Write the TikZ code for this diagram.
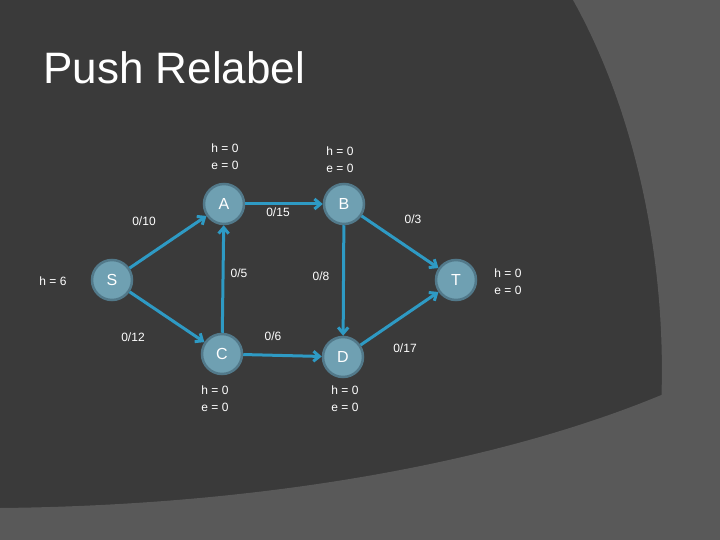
\documentclass[tikz,border=0pt]{standalone}
\usepackage{fontspec}
\setmainfont{Liberation Sans}
\usetikzlibrary{arrows.meta}
\definecolor{bgdark}{HTML}{3A3A3A}
\definecolor{bglight}{HTML}{595959}
\definecolor{nodefill}{HTML}{6FA0B2}
\definecolor{nodeedge}{HTML}{52798A}
\definecolor{edgecol}{HTML}{2E9AC4}
\begin{document}
\begin{tikzpicture}[x=1pt,y=-1pt,
  vtx/.style={circle,fill=nodefill,draw=nodeedge,line width=2.5pt,minimum size=40pt,inner sep=0pt,text=white,font=\fontsize{16}{18}\selectfont},
  lbl/.style={text=white,font=\fontsize{12}{15}\selectfont,inner sep=0pt,align=center},
  flow/.style={draw=edgecol,line width=3pt,-{Straight Barb[length=6pt,width=10pt]}}]
\fill[bgdark] (0,0) rectangle (720,540);
\useasboundingbox (0,0) rectangle (720,540);
\fill[bglight] (573,0) .. controls (640,120) and (670,280) .. (660,425) -- (720,425) -- (720,0) -- cycle;
\fill[bglight] (0,508) .. controls (300,505) and (560,450) .. (720,368) -- (720,540) -- (0,540) -- cycle;
\node[text=white,font=\fontsize{44}{48}\selectfont,anchor=west] (title) at (40,68) {Push Relabel};
\node[vtx] (S) at (112,280) {S};
\node[vtx] (A) at (224,204) {A};
\node[vtx] (B) at (344,204) {B};
\node[vtx] (T) at (456,280) {T};
\node[vtx] (C) at (222,354) {C};
\node[vtx] (D) at (343,357) {D};
\draw[flow] (S) -- (A);
\draw[flow] (S) -- (C);
\draw[flow] (C) -- (A);
\draw[flow] (A) -- (B);
\draw[flow] (B) -- (D);
\draw[flow] (C) -- (D);
\draw[flow] (B) -- (T);
\draw[flow] (D) -- (T);
\node[lbl] (l1) at (144,221) {0/10};
\node[lbl] (l2) at (133,337) {0/12};
\node[lbl] (l3) at (239,273) {0/5};
\node[lbl] (l4) at (278,212) {0/15};
\node[lbl] (l5) at (321,276) {0/8};
\node[lbl] (l6) at (273,336) {0/6};
\node[lbl] (l7) at (413,219) {0/3};
\node[lbl] (l8) at (405,348) {0/17};
\node[lbl] (hS) at (53,281) {h = 6};
\node[lbl] (hA) at (225,157) {h = 0\\[2pt]e = 0};
\node[lbl] (hB) at (340,160) {h = 0\\[2pt]e = 0};
\node[lbl] (hT) at (508,282) {h = 0\\[2pt]e = 0};
\node[lbl] (hC) at (215,399) {h = 0\\[2pt]e = 0};
\node[lbl] (hD) at (345,399) {h = 0\\[2pt]e = 0};
\end{tikzpicture}
\end{document}
